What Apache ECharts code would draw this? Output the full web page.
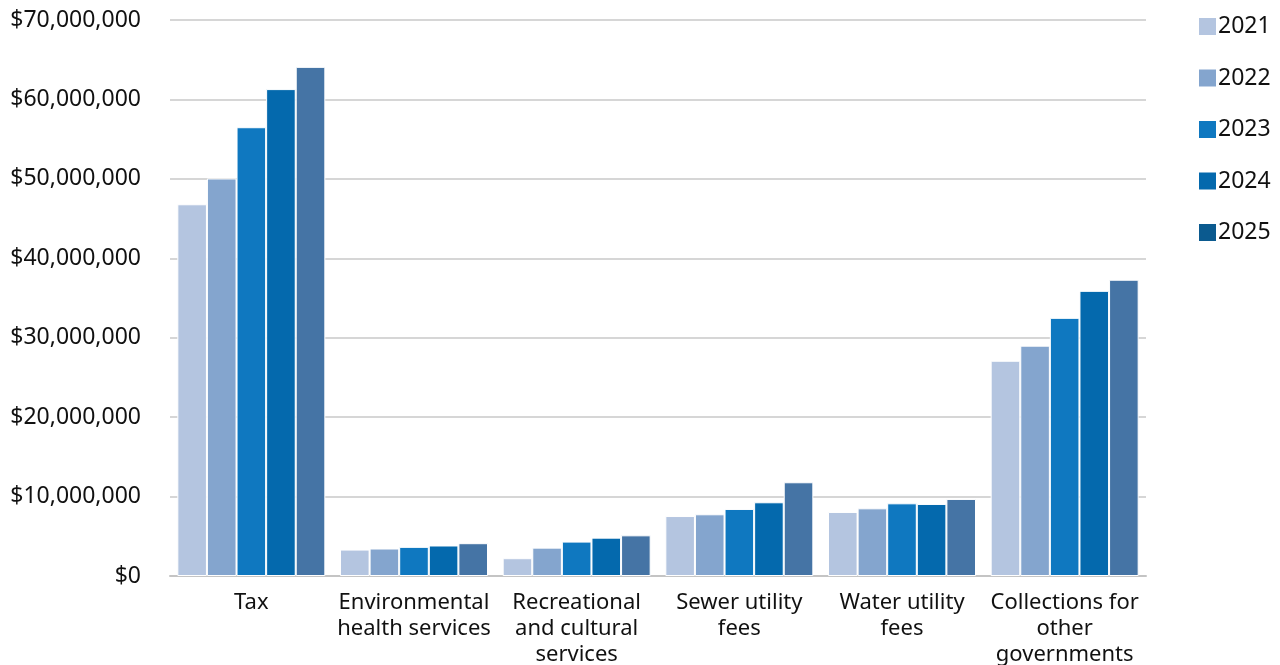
<!DOCTYPE html>
<html>
<head>
<meta charset="utf-8">
<script src="https://cdn.jsdelivr.net/npm/echarts@6/dist/echarts.min.js"></script>
<style>
html,body{margin:0;padding:0;background:#fff;}
#chart{width:1280px;height:665px;}
</style>
</head>
<body>
<div id="chart"></div>
<script>
const categories = ['Tax', 'Environmental\nhealth services', 'Recreational\nand cultural\nservices', 'Sewer utility\nfees', 'Water utility\nfees', 'Collections for\nother\ngovernments'];
const years = ['2021', '2022', '2023', '2024', '2025'];
const values2021 = [46800000, 3330000, 2240000, 7550000, 8060000, 27100000];
const values2022 = [50050000, 3460000, 3570000, 7770000, 8520000, 29000000];
const values2023 = [56500000, 3670000, 4330000, 8440000, 9150000, 32500000];
const values2024 = [61300000, 3840000, 4830000, 9280000, 9070000, 35900000];
const values2025 = [64100000, 4130000, 5120000, 11800000, 9700000, 37300000];
const yTicks = [0, 10000000, 20000000, 30000000, 40000000, 50000000, 60000000, 70000000];

const barColors = ['#b4c5e0', '#84a5ce', '#0f78c0', '#0469ad', '#4574a5'];
const legendColors = ['#b4c5e0', '#84a5ce', '#0f78c0', '#0469ad', '#0b5a8f'];
const seriesValues = [values2021, values2022, values2023, values2024, values2025];

const chart = echarts.init(document.getElementById('chart'), null, {renderer: 'canvas'});
const font = '"Noto Sans", sans-serif';

function fmt(v) {
  return '$' + v.toString().replace(/\B(?=(\d{3})+(?!\d))/g, ',');
}

chart.setOption({
  animation: false,
  textStyle: {fontFamily: font},
  grid: {left: 170, right: 134, top: 20, bottom: 89, containLabel: false, outerBoundsMode: 'none'},
  legend: {
    orient: 'vertical',
    left: 1194,
    top: 10,
    itemWidth: 17,
    itemHeight: 17,
    itemGap: 28.5,
    icon: 'rect',
    textStyle: {fontFamily: font, fontSize: 23, color: '#111', padding: [0, 0, 0, -3]},
    data: years.map((y, i) => ({name: y, itemStyle: {color: legendColors[i], borderWidth: 0}}))
  },
  xAxis: {
    type: 'category',
    data: categories,
    axisLine: {show: true, lineStyle: {color: '#c4c4c4', width: 2}},
    axisTick: {show: false},
    axisLabel: {
      fontFamily: font, fontSize: 22, color: '#111', lineHeight: 26, margin: 14, interval: 0
    }
  },
  yAxis: {
    type: 'value',
    min: yTicks[0],
    max: yTicks[yTicks.length - 1],
    interval: 10000000,
    axisLine: {show: false},
    axisTick: {show: false},
    splitLine: {lineStyle: {color: '#c8c8c8', width: 1.5}},
    axisLabel: {
      fontFamily: font, fontSize: 23, color: '#111', margin: 29,
      formatter: fmt
    }
  },
  series: years.map((y, i) => ({
    name: y,
    type: 'bar',
    data: seriesValues[i],
    barWidth: 29.6,
    barGap: '0%',
    itemStyle: {color: barColors[i], borderColor: '#ffffff', borderWidth: 1}
  }))
});
</script>
</body>
</html>
